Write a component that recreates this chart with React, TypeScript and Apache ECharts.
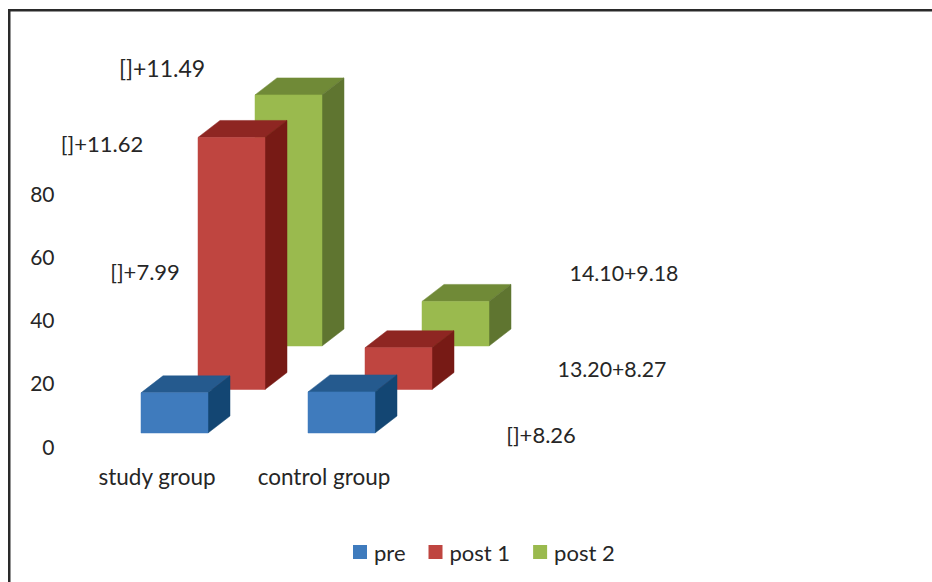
import React, { useEffect, useRef } from "react";
import * as echarts from "echarts";

// Chart values
const categories = ["study group", "control group"];
const preValues = [12.7, 13.0];
const post1Values = [79.7, 13.2];
const post2Values = [79.4, 14.1];
const yTicks = { min: 0, max: 80, step: 20 };

// Mean + SD captions
const captions = ["[]+7.99", "[]+8.26", "[]+11.62", "13.20+8.27", "[]+11.49", "14.10+9.18"];
const captionAnchors = [
  [145, 271],
  [541, 434],
  [102, 143],
  [612, 369],
  [162, 68],
  [624, 273],
];
const captionSizes = [22, 22, 22, 21.3, 23, 21.3];

const FONT = "Lato";
const TEXT = "#262626";
const BAR_WIDTH = 67;
const DEPTH_X = 22;
const DEPTH_Y = -17;
// Each series stands one row further back in the fake 3D floor
const ROW_STEP_X = 57;
const ROW_STEP_Y = -43.5;
const FIRST_ROW_X = 17.5;
const FIRST_ROW_Y = -14;

const palettes = [
  { front: "#3F7BBD", top: "#255A8E", side: "#134673" },
  { front: "#BF4540", top: "#8E2622", side: "#771A15" },
  { front: "#9ABA4E", top: "#708A37", side: "#5F7530" },
];

function prism(row: number) {
  const p = palettes[row];
  return (_: any, api: any) => {
    const cat = api.value(0);
    const [cx, y0] = api.coord([cat, 0]);
    const [, yv] = api.coord([cat, api.value(1)]);
    const l = cx + FIRST_ROW_X + row * ROW_STEP_X - BAR_WIDTH / 2;
    const r = l + BAR_WIDTH;
    const dy = FIRST_ROW_Y + row * ROW_STEP_Y;
    const b = y0 + dy;
    const t = yv + dy;
    const poly = (points: number[][], fill: string) => ({
      type: "polygon",
      shape: { points },
      style: { fill, stroke: fill, lineWidth: 0.5 },
    });
    return {
      type: "group",
      children: [
        poly([[l, t], [r, t], [r + DEPTH_X, t + DEPTH_Y], [l + DEPTH_X, t + DEPTH_Y]], p.top),
        poly([[r, t], [r + DEPTH_X, t + DEPTH_Y], [r + DEPTH_X, b + DEPTH_Y], [r, b]], p.side),
        poly([[l, t], [r, t], [r, b], [l, b]], p.front),
      ],
    };
  };
}

function seriesFor(name: string, values: number[], row: number) {
  return {
    type: "custom",
    name,
    z: 10 - row,
    clip: false,
    itemStyle: { color: palettes[row].front },
    encode: { x: 0, y: 1 },
    data: values.map((v, i) => [i, v]),
    renderItem: prism(row),
  };
}

export default function App() {
  const ref = useRef<HTMLDivElement>(null);
  useEffect(() => {
    const chart = echarts.init(ref.current!, undefined, { renderer: "svg" });
    chart.setOption({
      animation: false,
      backgroundColor: "#fff",
      textStyle: { fontFamily: FONT, color: TEXT },
      grid: { left: 73.5, width: 334, top: 194, height: 253 },
      xAxis: {
        type: "category",
        data: categories,
        axisLine: { show: false },
        axisTick: { show: false },
        axisLabel: { interval: 0, margin: 18, fontSize: 22.5, fontFamily: FONT, color: TEXT },
      },
      yAxis: {
        type: "value",
        min: yTicks.min,
        max: yTicks.max,
        interval: yTicks.step,
        axisLine: { show: false },
        axisTick: { show: false },
        splitLine: { show: false },
        axisLabel: {
          margin: 19,
          formatter: "{n|{value}}",
          rich: { n: { fontSize: 21, fontFamily: FONT, color: TEXT, padding: [0, 0, 2, 0] } },
        },
      },
      legend: {
        left: 353,
        top: 541,
        icon: "rect",
        itemWidth: 14,
        itemHeight: 14,
        itemGap: 23,
        padding: 0,
        data: ["pre", "post 1", "post 2"],
        textStyle: { fontSize: 22, fontFamily: FONT, color: TEXT, padding: [0, 0, 0, 2] },
      },
      series: [
        seriesFor("pre", preValues, 0),
        seriesFor("post 1", post1Values, 1),
        seriesFor("post 2", post2Values, 2),
      ],
      graphic: [
        {
          type: "rect",
          silent: true,
          shape: { x: 9.25, y: 10.25, width: 1000, height: 1000 },
          style: { fill: "none", stroke: "#2a2a2a", lineWidth: 2.5 },
        },
        ...captions.map((text, i) => ({
          type: "text",
          x: captionAnchors[i][0],
          y: captionAnchors[i][1],
          style: {
            text,
            fontFamily: FONT,
            fontSize: captionSizes[i],
            fill: TEXT,
            align: "center",
            verticalAlign: "middle",
          },
        })),
      ],
    });
    return () => chart.dispose();
  }, []);
  return <div ref={ref} style={{ position: "absolute", left: 0, top: 0, width: 932, height: 582 }} />;
}
